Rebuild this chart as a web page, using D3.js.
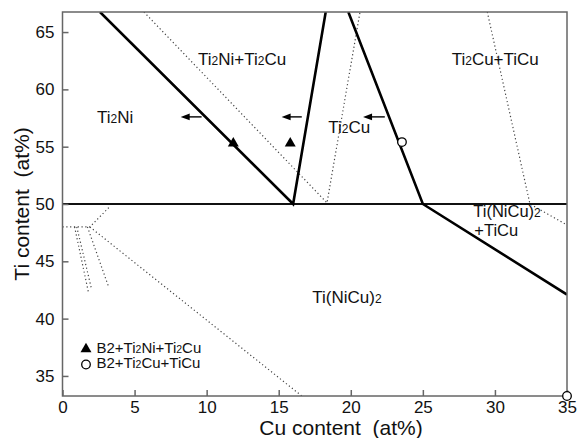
<!DOCTYPE html>
<html><head><meta charset="utf-8">
<script src="https://cdn.jsdelivr.net/npm/d3@7"></script>
<style>body{margin:0;background:#fff}svg{display:block}text{font-family:"Liberation Sans",Arial,Helvetica,sans-serif;fill:#111}</style>
</head><body><svg id="c" width="577" height="438"></svg>
<script>
// ---- data (Cu at%, Ti at%) ----
const xTicks = [0, 5, 10, 15, 20, 25, 30, 35];
const yTicks = [35, 40, 45, 50, 55, 60, 65];
const xDomain = [0, 35];
const yDomain = [33.25, 66.75];

// solid phase boundaries
const boundaryA = [[2.6, 66.75], [16.0, 50.0], [18.26, 66.75]];
const boundaryB = [[19.83, 66.75], [25.0, 50.0], [35.0, 42.1]];
const boundary50 = [[0, 50], [35, 50]];

// dotted lines
const dottedA = [[5.65, 66.75], [18.35, 50.1], [20.64, 66.75]];
const dottedB = [[29.47, 66.75], [32.43, 50.0], [35.0, 48.17]];
const dottedC = [[0, 48.0], [1.9, 48.0], [3.3, 49.8]];
const dottedD = [[1.9, 48.0], [16.6, 33.25]];
const dottedE = [[0.84, 48.0], [1.79, 42.35]];
const dottedF = [[0.99, 48.0], [2.03, 42.5]];
const dottedG = [[1.73, 48.0], [3.18, 42.84]];

// markers
const triangles = [[11.85, 55.3], [15.8, 55.3]];
const circles = [[23.55, 55.4], [35.0, 33.25]];

// arrows: [tail Cu, tip Cu, Ti]
const arrows = [[9.65, 8.2, 57.6], [16.6, 15.2, 57.6], [22.36, 20.85, 57.6]];

// region labels: parts [text, isSub], anchor Cu, baseline Ti
const labels = [
  {parts: [["Ti", 0], ["2", 1], ["Ni", 0]], cu: 2.39, ti: 57.07, fs: 17},
  {parts: [["Ti", 0], ["2", 1], ["Ni+Ti", 0], ["2", 1], ["Cu", 0]], cu: 9.4, ti: 62.13, fs: 17},
  {parts: [["Ti", 0], ["2", 1], ["Cu+TiCu", 0]], cu: 27.0, ti: 62.13, fs: 17},
  {parts: [["Ti", 0], ["2", 1], ["Cu", 0]], cu: 18.44, ti: 56.2, fs: 17},
  {parts: [["Ti(NiCu)", 0], ["2", 1]], cu: 28.5, ti: 48.85, fs: 16.5},
  {parts: [["+TiCu", 0]], cu: 28.57, ti: 47.2, fs: 16.5},
  {parts: [["Ti(NiCu)", 0], ["2", 1]], cu: 17.33, ti: 41.36, fs: 17}
];
const legendItems = [
  {sym: "triangle", parts: [["B2+Ti", 0], ["2", 1], ["Ni+Ti", 0], ["2", 1], ["Cu", 0]], cu: 1.63, ti: 37.35},
  {sym: "circle", parts: [["B2+Ti", 0], ["2", 1], ["Cu+TiCu", 0]], cu: 1.63, ti: 36.0}
];
const xTitle = "Cu content  (at%)";
const yTitle = "Ti content  (at%)";

// ---- drawing ----
const W = 577, H = 438;
const m = {l: 62.5, r: 10, t: 12, b: 42};
const svg = d3.select("#c");
const x = d3.scaleLinear().domain(xDomain).range([m.l, W - m.r]);
const y = d3.scaleLinear().domain(yDomain).range([H - m.b, m.t]);

svg.append("defs").append("clipPath").attr("id", "clip")
  .append("rect").attr("x", m.l).attr("y", m.t)
  .attr("width", x(35) - m.l).attr("height", y(yDomain[0]) - m.t);

const line = d3.line().x(d => x(d[0])).y(d => y(d[1]));
const g = svg.append("g").attr("clip-path", "url(#clip)");

[dottedA, dottedB, dottedC, dottedD, dottedE, dottedF, dottedG].forEach(d => {
  g.append("path").attr("d", line(d)).attr("fill", "none")
    .attr("stroke", "#444").attr("stroke-width", 1.2)
    .attr("stroke-dasharray", "1.2,2.6");
});

// frame
svg.append("rect").attr("x", m.l).attr("y", m.t)
  .attr("width", x(35) - m.l).attr("height", y(yDomain[0]) - m.t)
  .attr("fill", "none").attr("stroke", "#666").attr("stroke-width", 1.5);

g.append("path").attr("d", line(boundary50)).attr("fill", "none")
  .attr("stroke", "#111").attr("stroke-width", 2.2);
[boundaryA, boundaryB].forEach(d => {
  g.append("path").attr("d", line(d)).attr("fill", "none")
    .attr("stroke", "#000").attr("stroke-width", 2.6).attr("stroke-linejoin", "miter");
});

// axes
const xa = svg.append("g").attr("transform", `translate(0,${y(yDomain[0])})`)
  .call(d3.axisBottom(x).tickValues(xTicks).tickSize(-6).tickPadding(5).tickFormat(d3.format("d")));
const ya = svg.append("g").attr("transform", `translate(${m.l},0)`)
  .call(d3.axisLeft(y).tickValues(yTicks).tickSize(-6).tickPadding(8).tickFormat(d3.format("d")));
[xa, ya].forEach(a => {
  a.select(".domain").remove();
  a.selectAll("line").attr("stroke", "#666").attr("stroke-width", 1.5);
  a.selectAll("text").attr("font-size", 17).attr("fill", "#111")
    .style("font-family", '"Liberation Sans",Arial,sans-serif');
});

// markers
const tri = d3.symbol().type(d3.symbolTriangle).size(52);
svg.selectAll(".tri").data(triangles).join("path")
  .attr("d", tri).attr("transform", d => `translate(${x(d[0])},${y(d[1])})`).attr("fill", "#000");
svg.selectAll(".circ").data(circles).join("circle")
  .attr("cx", d => x(d[0])).attr("cy", d => y(d[1])).attr("r", 4.3)
  .attr("fill", "#fff").attr("stroke", "#000").attr("stroke-width", 1.3);

// arrows
arrows.forEach(a => {
  const x1 = x(a[0]), x2 = x(a[1]), yy = y(a[2]);
  svg.append("line").attr("x1", x1).attr("x2", x2 + 6).attr("y1", yy).attr("y2", yy)
    .attr("stroke", "#000").attr("stroke-width", 1.4);
  svg.append("path").attr("d", `M${x2},${yy}L${x2 + 9},${yy - 3.4}L${x2 + 9},${yy + 3.4}Z`).attr("fill", "#000");
});

function addText(parts, px, py, fs, subfs) {
  const t = svg.append("text").attr("x", px).attr("y", py).attr("font-size", fs);
  parts.forEach(p => t.append("tspan").text(p[0]).attr("font-size", p[1] ? subfs : fs));
  return t;
}
labels.forEach(l => addText(l.parts, x(l.cu), y(l.ti), l.fs, Math.round(l.fs * 0.7)));

legendItems.forEach(l => {
  const px = x(l.cu), py = y(l.ti);
  if (l.sym === "triangle") {
    svg.append("path").attr("d", tri).attr("transform", `translate(${px},${py})`).attr("fill", "#000");
  } else {
    svg.append("circle").attr("cx", px).attr("cy", py).attr("r", 4.3)
      .attr("fill", "#fff").attr("stroke", "#000").attr("stroke-width", 1.3);
  }
  addText(l.parts, px + 10.5, py + 4, 15, 10.5);
});

svg.append("text").attr("x", 341).attr("y", 435).attr("text-anchor", "middle")
  .attr("font-size", 21).style("white-space", "pre").text(xTitle);
svg.append("text").attr("transform", `translate(29,204) rotate(-90)`).attr("text-anchor", "middle")
  .attr("font-size", 21).style("white-space", "pre").text(yTitle);
</script></body></html>
